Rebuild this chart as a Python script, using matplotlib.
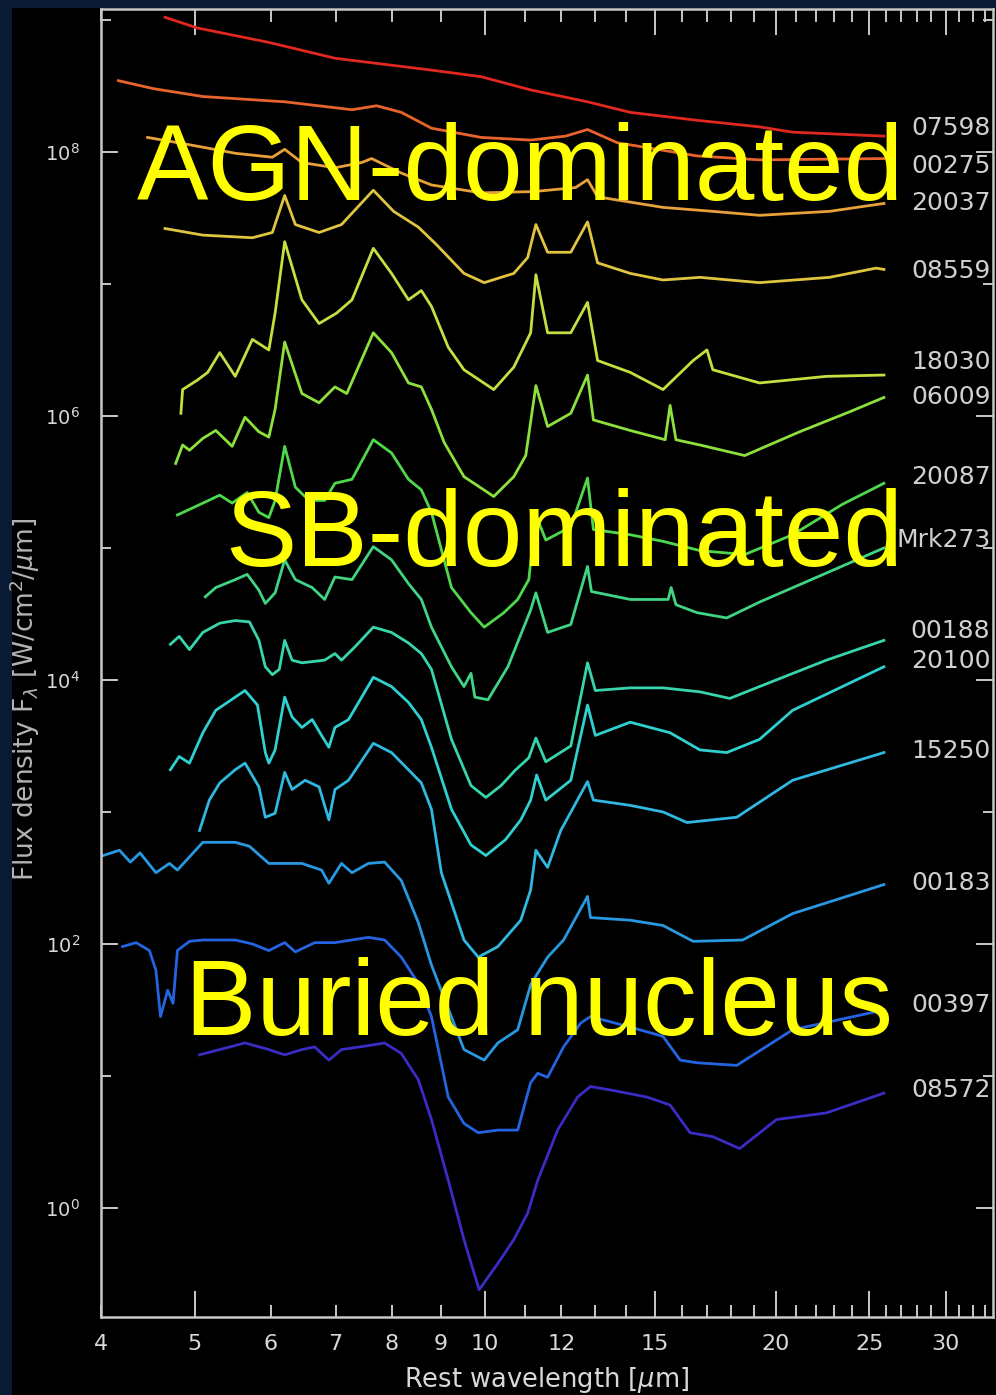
import numpy as np
import matplotlib
matplotlib.use('Agg')
import matplotlib.pyplot as plt
from matplotlib.ticker import FixedLocator, FuncFormatter, NullFormatter
from matplotlib.patches import Rectangle

# spectra: rest wavelength [um] and log10 of flux density (offset for display)
w_07598 = [4.66, 5.03, 5.97, 6.99, 8.80, 9.91, 11.15, 12.77, 14.14, 16.58, 19.25, 20.83, 25.9]
lf_07598 = [9.02, 8.94, 8.83, 8.71, 8.62, 8.57, 8.47, 8.38, 8.30, 8.24, 8.19, 8.15, 8.12]

w_00275 = [4.17, 4.53, 5.10, 6.20, 7.28, 7.72, 8.19, 8.80, 9.91, 11.15, 12.12, 12.77, 13.71, 16.58, 19.25, 25.9]
lf_00275 = [8.54, 8.48, 8.42, 8.38, 8.32, 8.35, 8.30, 8.18, 8.11, 8.09, 8.12, 8.17, 8.07, 7.97, 7.94, 7.95]

w_20037 = [4.47, 4.98, 5.51, 6.02, 6.20, 6.46, 6.99, 7.45, 7.63, 8.19, 8.80, 9.91, 11.23, 12.41, 12.77, 13.08,
           15.29, 17.22, 19.25, 22.74, 25.9]
lf_20037 = [8.11, 8.05, 7.99, 7.96, 8.02, 7.92, 7.88, 7.92, 7.95, 7.84, 7.75, 7.69, 7.70, 7.73, 7.79, 7.66,
            7.58, 7.55, 7.52, 7.55, 7.61]

w_08559 = [4.66, 5.10, 5.74, 6.02, 6.20, 6.36, 6.73, 7.10, 7.66, 8.04, 8.53, 8.90, 9.51, 9.98, 10.71, 11.07,
           11.29, 11.61, 12.27, 12.77, 13.08, 14.14, 15.29, 16.70, 19.25, 22.74, 25.42, 25.9]
lf_08559 = [7.42, 7.37, 7.35, 7.39, 7.67, 7.45, 7.39, 7.45, 7.71, 7.55, 7.43, 7.30, 7.08, 7.01, 7.08, 7.20,
            7.45, 7.24, 7.24, 7.47, 7.16, 7.08, 7.03, 7.05, 7.01, 7.05, 7.12, 7.11]

w_18030 = [4.84, 4.86, 5.03, 5.16, 5.31, 5.51, 5.74, 5.97, 6.06, 6.20, 6.46, 6.73, 7.02, 7.28, 7.66, 8.00,
           8.33, 8.59, 8.80, 9.16, 9.51, 10.21, 10.71, 11.15, 11.29, 11.61, 12.27, 12.77, 13.08, 14.14,
           15.29, 16.43, 16.98, 17.22, 19.25, 22.58, 25.9]
lf_18030 = [6.02, 6.20, 6.27, 6.33, 6.48, 6.30, 6.58, 6.50, 6.78, 7.32, 6.88, 6.70, 6.78, 6.88, 7.27, 7.08,
            6.88, 6.95, 6.83, 6.52, 6.35, 6.20, 6.37, 6.63, 7.07, 6.63, 6.63, 6.86, 6.42, 6.33,
            6.20, 6.42, 6.50, 6.35, 6.25, 6.30, 6.31]

w_06009 = [4.78, 4.86, 4.94, 5.10, 5.26, 5.47, 5.64, 5.83, 5.97, 6.06, 6.20, 6.46, 6.73, 6.99, 7.19, 7.66,
           8.00, 8.33, 8.59, 8.80, 9.07, 9.51, 10.21, 10.71, 11.02, 11.29, 11.61, 12.27, 12.77, 12.95,
           14.14, 15.37, 15.55, 15.77, 16.70, 18.58, 21.18, 23.84, 25.9]
lf_06009 = [5.64, 5.78, 5.74, 5.83, 5.89, 5.77, 5.99, 5.88, 5.84, 6.05, 6.56, 6.17, 6.10, 6.22, 6.17, 6.63,
            6.48, 6.25, 6.22, 6.05, 5.80, 5.54, 5.39, 5.54, 5.70, 6.23, 5.92, 6.02, 6.31, 5.97,
            5.89, 5.82, 6.08, 5.82, 5.78, 5.70, 5.88, 6.03, 6.14]

w_20087 = [4.80, 5.00, 5.31, 5.47, 5.67, 5.83, 5.97, 6.06, 6.20, 6.36, 6.57, 6.82, 6.99, 7.28, 7.66, 8.00,
           8.33, 8.59, 8.80, 9.23, 9.67, 9.98, 10.46, 10.81, 11.10, 11.29, 11.56, 12.27, 12.77, 12.95,
           14.14, 15.29, 16.70, 18.58, 20.83, 23.45, 25.9]
lf_20087 = [5.25, 5.31, 5.40, 5.34, 5.42, 5.27, 5.23, 5.36, 5.77, 5.46, 5.36, 5.36, 5.49, 5.52, 5.82, 5.72,
            5.52, 5.44, 5.27, 4.70, 4.51, 4.40, 4.51, 4.61, 4.76, 5.25, 5.06, 5.16, 5.53, 5.14,
            5.10, 5.05, 4.98, 4.95, 5.10, 5.33, 5.49]

w_mrk273 = [5.13, 5.26, 5.51, 5.67, 5.83, 5.92, 6.06, 6.20, 6.36, 6.62, 6.82, 6.99, 7.28, 7.66, 8.00, 8.33,
            8.59, 8.80, 9.23, 9.51, 9.67, 9.76, 10.07, 10.56, 11.15, 11.29, 11.61, 12.27, 12.77, 12.89,
            14.14, 15.48, 15.59, 15.77, 16.58, 17.80, 19.25, 22.58, 25.9]
lf_mrk273 = [4.63, 4.70, 4.76, 4.80, 4.68, 4.58, 4.66, 4.91, 4.76, 4.70, 4.61, 4.78, 4.76, 5.01, 4.91, 4.73,
             4.61, 4.40, 4.10, 3.95, 4.05, 3.87, 3.85, 4.10, 4.53, 4.66, 4.36, 4.42, 4.86, 4.67,
             4.61, 4.61, 4.70, 4.57, 4.51, 4.47, 4.59, 4.81, 5.00]

w_00188 = [4.72, 4.82, 4.94, 5.10, 5.31, 5.51, 5.70, 5.83, 5.92, 6.02, 6.12, 6.20, 6.31, 6.46, 6.82, 6.99,
           7.10, 7.33, 7.66, 8.00, 8.33, 8.59, 8.80, 9.23, 9.67, 10.02, 10.39, 10.76, 11.10, 11.29,
           11.56, 12.27, 12.77, 13.01, 14.14, 15.29, 16.70, 17.93, 19.25, 22.58, 25.9]
lf_00188 = [4.27, 4.33, 4.23, 4.36, 4.43, 4.45, 4.44, 4.30, 4.10, 4.04, 4.08, 4.30, 4.15, 4.13, 4.15, 4.20,
            4.15, 4.25, 4.40, 4.36, 4.28, 4.20, 4.08, 3.55, 3.20, 3.11, 3.20, 3.32, 3.41, 3.56,
            3.38, 3.50, 4.13, 3.92, 3.94, 3.94, 3.91, 3.86, 3.95, 4.15, 4.30]

w_20100 = [4.72, 4.82, 4.94, 5.10, 5.26, 5.51, 5.64, 5.81, 5.92, 5.97, 6.06, 6.20, 6.31, 6.46, 6.62, 6.77,
           6.89, 6.99, 7.22, 7.66, 8.00, 8.33, 8.59, 8.80, 9.23, 9.67, 10.02, 10.50, 10.89, 11.15,
           11.31, 11.56, 12.27, 12.77, 13.01, 14.14, 15.55, 16.70, 17.80, 19.25, 20.83, 25.9]
lf_20100 = [3.32, 3.42, 3.37, 3.60, 3.77, 3.87, 3.92, 3.81, 3.45, 3.37, 3.47, 3.87, 3.72, 3.64, 3.70, 3.58,
            3.49, 3.64, 3.70, 4.02, 3.95, 3.83, 3.70, 3.49, 3.02, 2.75, 2.67, 2.79, 2.94, 3.09,
            3.28, 3.09, 3.24, 3.81, 3.58, 3.68, 3.60, 3.47, 3.45, 3.55, 3.77, 4.10]

w_15250 = [5.06, 5.18, 5.31, 5.51, 5.64, 5.83, 5.92, 6.06, 6.20, 6.31, 6.51, 6.73, 6.89, 6.99, 7.22, 7.66,
           8.00, 8.33, 8.59, 8.80, 9.01, 9.51, 9.84, 10.31, 10.89, 11.15, 11.29, 11.61, 11.98, 12.77,
           12.95, 14.14, 15.29, 16.19, 18.23, 20.83, 25.9]
lf_15250 = [2.86, 3.09, 3.22, 3.32, 3.37, 3.19, 2.96, 2.99, 3.30, 3.17, 3.24, 3.19, 2.94, 3.17, 3.24, 3.52,
            3.45, 3.32, 3.22, 3.02, 2.54, 2.03, 1.90, 1.98, 2.18, 2.41, 2.71, 2.58, 2.86, 3.23,
            3.09, 3.05, 3.00, 2.92, 2.96, 3.24, 3.45]

w_00183 = [4.02, 4.18, 4.29, 4.39, 4.56, 4.71, 4.80, 5.10, 5.51, 5.70, 5.97, 6.46, 6.77, 6.89, 7.10, 7.28,
           7.57, 7.87, 8.19, 8.53, 8.80, 9.51, 9.98, 10.31, 10.81, 11.15, 11.34, 11.61, 12.06, 12.77,
           12.86, 14.14, 15.29, 16.43, 18.49, 20.83, 25.9]
lf_00183 = [2.67, 2.71, 2.62, 2.69, 2.54, 2.61, 2.56, 2.77, 2.77, 2.74, 2.61, 2.61, 2.56, 2.46, 2.61, 2.54,
            2.61, 2.62, 2.48, 2.16, 1.84, 1.20, 1.12, 1.25, 1.35, 1.69, 1.78, 1.90, 2.03, 2.36,
            2.20, 2.18, 2.14, 2.02, 2.03, 2.23, 2.45]

w_00397 = [4.21, 4.35, 4.49, 4.56, 4.61, 4.69, 4.75, 4.80, 4.94, 5.10, 5.51, 5.74, 5.97, 6.20, 6.36, 6.66,
           6.99, 7.57, 7.87, 8.19, 8.53, 8.80, 9.16, 9.51, 9.84, 10.31, 10.81, 11.15, 11.34, 11.61,
           12.06, 12.56, 12.86, 14.14, 15.29, 15.93, 16.58, 18.23, 20.83, 25.9]
lf_00397 = [1.98, 2.01, 1.95, 1.80, 1.45, 1.65, 1.55, 1.95, 2.02, 2.03, 2.03, 2.00, 1.95, 2.01, 1.94, 2.01,
            2.01, 2.05, 2.03, 1.90, 1.70, 1.45, 0.84, 0.64, 0.57, 0.59, 0.59, 0.95, 1.02, 0.99,
            1.22, 1.40, 1.45, 1.37, 1.30, 1.12, 1.10, 1.08, 1.35, 1.50]

w_08572 = [5.06, 5.31, 5.64, 5.97, 6.20, 6.46, 6.66, 6.89, 7.10, 7.57, 7.87, 8.19, 8.53, 8.80, 9.16, 9.51,
           9.86, 10.31, 10.71, 11.07, 11.34, 11.89, 12.47, 12.86, 13.58, 14.72, 15.55, 16.31, 17.22,
           18.36, 20.05, 22.58, 25.9]
lf_08572 = [1.16, 1.20, 1.25, 1.20, 1.16, 1.20, 1.22, 1.12, 1.20, 1.23, 1.25, 1.17, 0.97, 0.67, 0.21, -0.24,
            -0.62, -0.42, -0.24, -0.04, 0.21, 0.59, 0.84, 0.92, 0.89, 0.84, 0.78, 0.57, 0.54,
            0.45, 0.67, 0.72, 0.87]

names = ['07598', '00275', '20037', '08559', '18030', '06009', '20087', 'Mrk273',
         '00188', '20100', '15250', '00183', '00397', '08572']
label_lf = [8.18, 7.89, 7.61, 7.10, 6.41, 6.14, 5.54, 5.06, 4.37, 4.14, 3.46, 2.46, 1.54, 0.89]
colors = ['#e02820', '#e8642c', '#e8a03a', '#e0c440', '#c4e040', '#8ee03c', '#50d84c', '#40d484',
          '#38d4ac', '#30d0d0', '#30b8e0', '#2898e0', '#2464e0', '#3a2cc4']

spectra = [(w_07598, lf_07598), (w_00275, lf_00275), (w_20037, lf_20037), (w_08559, lf_08559),
           (w_18030, lf_18030), (w_06009, lf_06009), (w_20087, lf_20087), (w_mrk273, lf_mrk273),
           (w_00188, lf_00188), (w_20100, lf_20100), (w_15250, lf_15250), (w_00183, lf_00183),
           (w_00397, lf_00397), (w_08572, lf_08572)]

xtick_labels = [4, 5, 6, 7, 8, 9, 10, 12, 15, 20, 25, 30]

fig = plt.figure(figsize=(9.96, 13.95), dpi=100)
fig.patch.set_facecolor('#0b1a34')
# black slide area (navy strip left/top like the original)
fig.patches.append(Rectangle((12 / 996, 0), 1, 1 - 8 / 1395, transform=fig.transFigure,
                             facecolor='black', edgecolor='none', zorder=-5))

ax = fig.add_axes([101 / 996, 1 - 1317 / 1395, (993 - 101) / 996, (1317 - 9) / 1395])
ax.set_zorder(2)
ax.set_facecolor('black')
ax.set_xscale('log')
ax.set_yscale('log')
ax.set_xlim(4, 33.6)
ax.set_ylim(10 ** -0.826, 10 ** 9.083)

for (w, lf), c in zip(spectra, colors):
    ax.plot(w, 10 ** np.array(lf), color=c, lw=2.0, solid_joinstyle='round')

for name, lf in zip(names, label_lf):
    ax.text(33.4, 10 ** lf, name, color='#d0d0d0', fontsize=18, ha='right', va='center')

gray = '#c8c8c8'
for sp in ax.spines.values():
    sp.set_color(gray)
    sp.set_linewidth(1.8)

# x axis ticks
ax.xaxis.set_major_locator(FixedLocator([5, 10, 15, 20, 25, 30]))
ax.xaxis.set_minor_locator(FixedLocator([v for v in range(4, 34) if v % 5 != 0]))
ax.xaxis.set_major_formatter(FuncFormatter(lambda v, p: '%d' % v))
ax.xaxis.set_minor_formatter(FuncFormatter(lambda v, p: '%d' % v if int(round(v)) in xtick_labels else ''))
ax.tick_params(axis='x', which='major', direction='in', length=19, width=1.4, color=gray,
               top=True, bottom=True, labelsize=16, labelcolor='#d8d8d8', pad=12)
ax.tick_params(axis='x', which='minor', direction='in', length=9, width=1.4, color=gray,
               top=True, bottom=True, labelsize=16, labelcolor='#d8d8d8', pad=12)

# y axis ticks
ax.yaxis.set_major_locator(FixedLocator([10.0 ** k for k in range(0, 10, 2)]))
ax.yaxis.set_minor_locator(FixedLocator([10.0 ** k for k in range(1, 10, 2)]))
ax.yaxis.set_major_formatter(FuncFormatter(lambda v, p: r'$10^{%d}$' % round(np.log10(v))))
ax.yaxis.set_minor_formatter(NullFormatter())
ax.tick_params(axis='y', which='major', direction='in', length=12, width=1.4, color=gray,
               left=True, right=True, labelsize=14, labelcolor='#d8d8d8', pad=15)
ax.tick_params(axis='y', which='minor', direction='in', length=7, width=1.4, color=gray,
               left=True, right=True)

ax.set_xlabel(r'Rest wavelength [$\mu$m]', color='#d8d8d8', fontsize=18.5, labelpad=8)
ax.set_ylabel(r'Flux density F$_\lambda$ [W/cm$^2$/$\mu$m]', color='#b4b4b4', fontsize=19)
ax.yaxis.set_label_coords(-0.066, 0.472)

# big overlay annotations
big = dict(color='#ffff00', fontsize=77, family=['Liberation Sans', 'DejaVu Sans'],
           va='baseline', ha='left', zorder=10)
fig.text(137 / 996, 1 - 200 / 1395, 'AGN-dominated', **big)
fig.text(225 / 996, 1 - 566 / 1395, 'SB-dominated', **big)
fig.text(185 / 996, 1 - 1035 / 1395, 'Buried nucleus', **big)

fig.savefig('out.png', dpi=100, facecolor=fig.get_facecolor())
